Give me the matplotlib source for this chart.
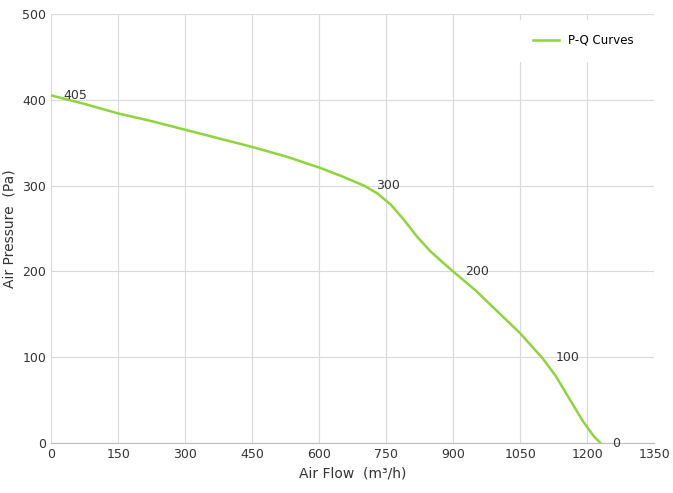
import numpy as np
import matplotlib.pyplot as plt

flow = [0, 75, 150, 225, 300, 375, 450, 525, 600, 650, 700, 730, 760, 790, 820, 850, 880, 900, 950, 1000, 1050, 1100, 1130, 1160, 1190, 1215, 1230]
pressure = [405, 395, 384, 375, 365, 355, 345, 334, 321, 311, 300, 291, 278, 260, 240, 223, 209, 200, 178, 153, 128, 99, 78, 52, 26, 8, 0]

label_flow = [27, 727, 927, 1130, 1256]
label_pres = [405, 300, 200, 100, 0]
label_text = ["405", "300", "200", "100", "0"]

fig, ax = plt.subplots(figsize=(6.73, 4.93), dpi=100)
fig.subplots_adjust(left=0.076, right=0.972, top=0.972, bottom=0.101)

ax.plot(flow, pressure, color="#8ed43a", lw=1.8, label="P-Q Curves")
for x, y, t in zip(label_flow, label_pres, label_text):
    ax.text(x, y, t, fontsize=9, color="#333333", va="center")

ax.set_xlim(0, 1350)
ax.set_ylim(0, 500)
ax.set_xticks(np.arange(0, 1351, 150))
ax.set_yticks(np.arange(0, 501, 100))
ax.grid(True, color="#d9d9d9", lw=0.8)
ax.set_axisbelow(True)
for s in ax.spines.values():
    s.set_visible(False)
ax.spines["bottom"].set_visible(True)
ax.spines["bottom"].set_color("#bbbbbb")
ax.tick_params(length=0, labelsize=9, colors="#333333")
ax.set_xlabel("Air Flow  (m³/h)", fontsize=10, color="#333333")
ax.set_ylabel("Air Pressure  (Pa)", fontsize=10, color="#333333")
ax.legend(loc="upper right", frameon=True, framealpha=1, edgecolor="white",
          fontsize=8.5, borderpad=1.2, handlelength=2.2)

fig.savefig("out.png")
